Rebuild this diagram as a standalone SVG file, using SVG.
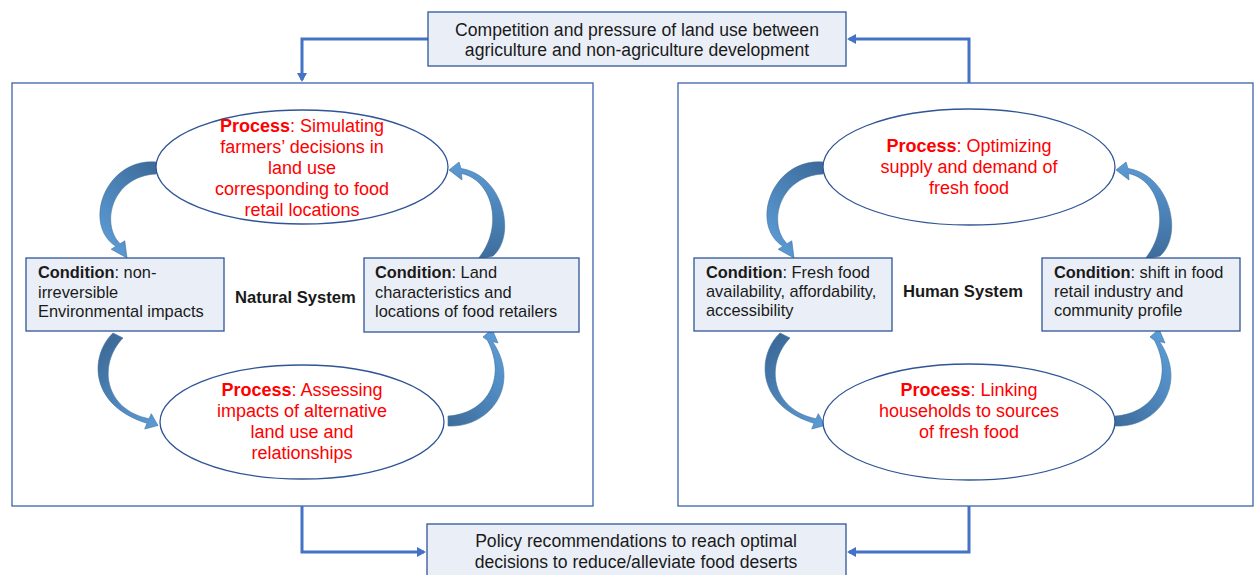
<svg xmlns="http://www.w3.org/2000/svg" width="1255" height="575" viewBox="0 0 1255 575">
  <style>
    text { font-family: "Liberation Sans", Arial, sans-serif; fill: #1a1a1a; }
    .panel { fill: #ffffff; stroke: #3b64ad; stroke-width: 1.3; }
    .box { fill: #eaeff7; stroke: #2f5597; stroke-width: 1.3; }
    .oval { fill: #ffffff; stroke: #2f5597; stroke-width: 1.3; }
    .note { font-size: 17.6px; text-anchor: middle; }
    .cond { font-size: 16.4px; }
    .proc { font-size: 18px; text-anchor: middle; fill: #ff0000; }
    .proc tspan.k { font-weight: bold; }
    .cond tspan.k { font-weight: bold; }
    .sys { font-size: 16.6px; font-weight: bold; }
    .link { fill: none; stroke: #4472c4; stroke-width: 3; }
    .cycle { stroke: #41719c; stroke-width: 0.6; stroke-linejoin: round; }
  </style>
  <defs>
    <marker id="tip" markerWidth="10" markerHeight="10" refX="7" refY="5" orient="auto" markerUnits="userSpaceOnUse">
      <path d="M0,0 L9,5 L0,10 Z" fill="#4472c4"/>
    </marker>
    <linearGradient id="gA" x1="0.9" y1="0" x2="0.3" y2="1">
      <stop offset="0" stop-color="#3d6c9b"/><stop offset="1" stop-color="#5b9bd5"/>
    </linearGradient>
    <linearGradient id="gB" x1="0.3" y1="1" x2="0.3" y2="0">
      <stop offset="0" stop-color="#3d6c9b"/><stop offset="1" stop-color="#5b9bd5"/>
    </linearGradient>
    <linearGradient id="gC" x1="0.4" y1="0" x2="0.9" y2="1">
      <stop offset="0" stop-color="#3d6c9b"/><stop offset="1" stop-color="#5b9bd5"/>
    </linearGradient>
    <linearGradient id="gD" x1="0" y1="1" x2="0.7" y2="0">
      <stop offset="0" stop-color="#3d6c9b"/><stop offset="1" stop-color="#5b9bd5"/>
    </linearGradient>
    <!-- curved block arrows of one cycle, drawn for the left panel -->
    <path id="cA" class="cycle" fill="url(#gA)" d="M156,162 C105,158 82,225 115.9,246.3 L111.2,249.2 L127,258 L124.8,240.8 L120.1,243.7 C100,224 112,176 156,174 Z"/>
    <path id="cB" class="cycle" fill="url(#gB)" d="M493,256 C517,235 503,175 461,168.5 L459,162 L449,170 L462,180 L461.5,173.5 C493,180 505,228 477,260 Z"/>
    <path id="cC" class="cycle" fill="url(#gC)" d="M113,333 C90,355 88,405 147,423.3 L144.7,429 L158,425.5 L151.3,413.7 L149,418.7 C105,410 97,365 123,338 Z"/>
    <path id="cD" class="cycle" fill="url(#gD)" d="M448,426 C490,428 522,385 492.5,341.5 L498,343 L492,329 L483,337 L487.5,340.5 C508,380 485,414 448,416 Z"/>
  </defs>

  <!-- system panels -->
  <g id="natural-system">
    <rect class="panel" x="12" y="83" width="581" height="423"/>
    <text class="sys" x="235" y="303">Natural System</text>
  </g>
  <g id="human-system">
    <rect class="panel" x="678" y="83" width="575" height="423"/>
    <text class="sys" x="903" y="297">Human System</text>
  </g>

  <!-- links between panels and the shared boxes -->
  <g id="connectors">
    <path class="link" d="M428,39 H302 V80" marker-end="url(#tip)"/>
    <path class="link" d="M969,83 V39 H849" marker-end="url(#tip)"/>
    <path class="link" d="M302,506 V552 H424" marker-end="url(#tip)"/>
    <path class="link" d="M969,506 V552 H849" marker-end="url(#tip)"/>
    <use href="#cA"/><use href="#cB"/><use href="#cC"/><use href="#cD"/>
    <g transform="translate(667,0)">
      <use href="#cA"/><use href="#cB"/><use href="#cC"/><use href="#cD"/>
    </g>
  </g>

  <g id="competition">
    <rect class="box" x="428" y="12" width="418" height="54"/>
    <text class="note" x="637" y="36">Competition and pressure of land use between</text>
    <text class="note" x="637" y="56">agriculture and non-agriculture development</text>
  </g>

  <g id="policy">
    <rect class="box" x="427" y="524" width="419" height="60"/>
    <text class="note" x="636" y="547">Policy recommendations to reach optimal</text>
    <text class="note" x="636" y="568">decisions to reduce/alleviate food deserts</text>
  </g>

  <!-- natural system cycle -->
  <g id="process-simulating">
    <ellipse class="oval" cx="302" cy="167" rx="146" ry="57"/>
    <text class="proc" x="302" y="132"><tspan class="k">Process</tspan>: Simulating</text>
    <text class="proc" x="302" y="153">farmers’ decisions in</text>
    <text class="proc" x="302" y="174">land use</text>
    <text class="proc" x="302" y="195">corresponding to food</text>
    <text class="proc" x="302" y="216">retail locations</text>
  </g>
  <g id="condition-environmental">
    <rect class="box" x="26" y="258" width="198" height="73"/>
    <text class="cond" x="38" y="278"><tspan class="k">Condition</tspan>: non-</text>
    <text class="cond" x="38" y="298">irreversible</text>
    <text class="cond" x="38" y="317">Environmental impacts</text>
  </g>
  <g id="condition-land">
    <rect class="box" x="364" y="258" width="215" height="74"/>
    <text class="cond" x="375" y="278"><tspan class="k">Condition</tspan>: Land</text>
    <text class="cond" x="375" y="298">characteristics and</text>
    <text class="cond" x="375" y="317">locations of food retailers</text>
  </g>
  <g id="process-assessing">
    <ellipse class="oval" cx="302" cy="422" rx="142" ry="57"/>
    <text class="proc" x="302" y="396"><tspan class="k">Process</tspan>: Assessing</text>
    <text class="proc" x="302" y="417">impacts of alternative</text>
    <text class="proc" x="302" y="438">land use and</text>
    <text class="proc" x="302" y="459">relationships</text>
  </g>

  <!-- human system cycle -->
  <g id="process-optimizing">
    <ellipse class="oval" cx="969" cy="167" rx="146" ry="58"/>
    <text class="proc" x="969" y="152"><tspan class="k">Process</tspan>: Optimizing</text>
    <text class="proc" x="969" y="173">supply and demand of</text>
    <text class="proc" x="969" y="194">fresh food</text>
  </g>
  <g id="condition-fresh-food">
    <rect class="box" x="694" y="258" width="198" height="73"/>
    <text class="cond" x="706" y="278"><tspan class="k">Condition</tspan>: Fresh food</text>
    <text class="cond" x="706" y="297">availability, affordability,</text>
    <text class="cond" x="706" y="316">accessibility</text>
  </g>
  <g id="condition-retail-shift">
    <rect class="box" x="1042" y="258" width="198" height="73"/>
    <text class="cond" x="1054" y="278"><tspan class="k">Condition</tspan>: shift in food</text>
    <text class="cond" x="1054" y="297">retail industry and</text>
    <text class="cond" x="1054" y="316">community profile</text>
  </g>
  <g id="process-linking">
    <ellipse class="oval" cx="969" cy="422" rx="146" ry="58"/>
    <text class="proc" x="969" y="396"><tspan class="k">Process</tspan>: Linking</text>
    <text class="proc" x="969" y="417">households to sources</text>
    <text class="proc" x="969" y="438">of fresh food</text>
  </g>
</svg>
